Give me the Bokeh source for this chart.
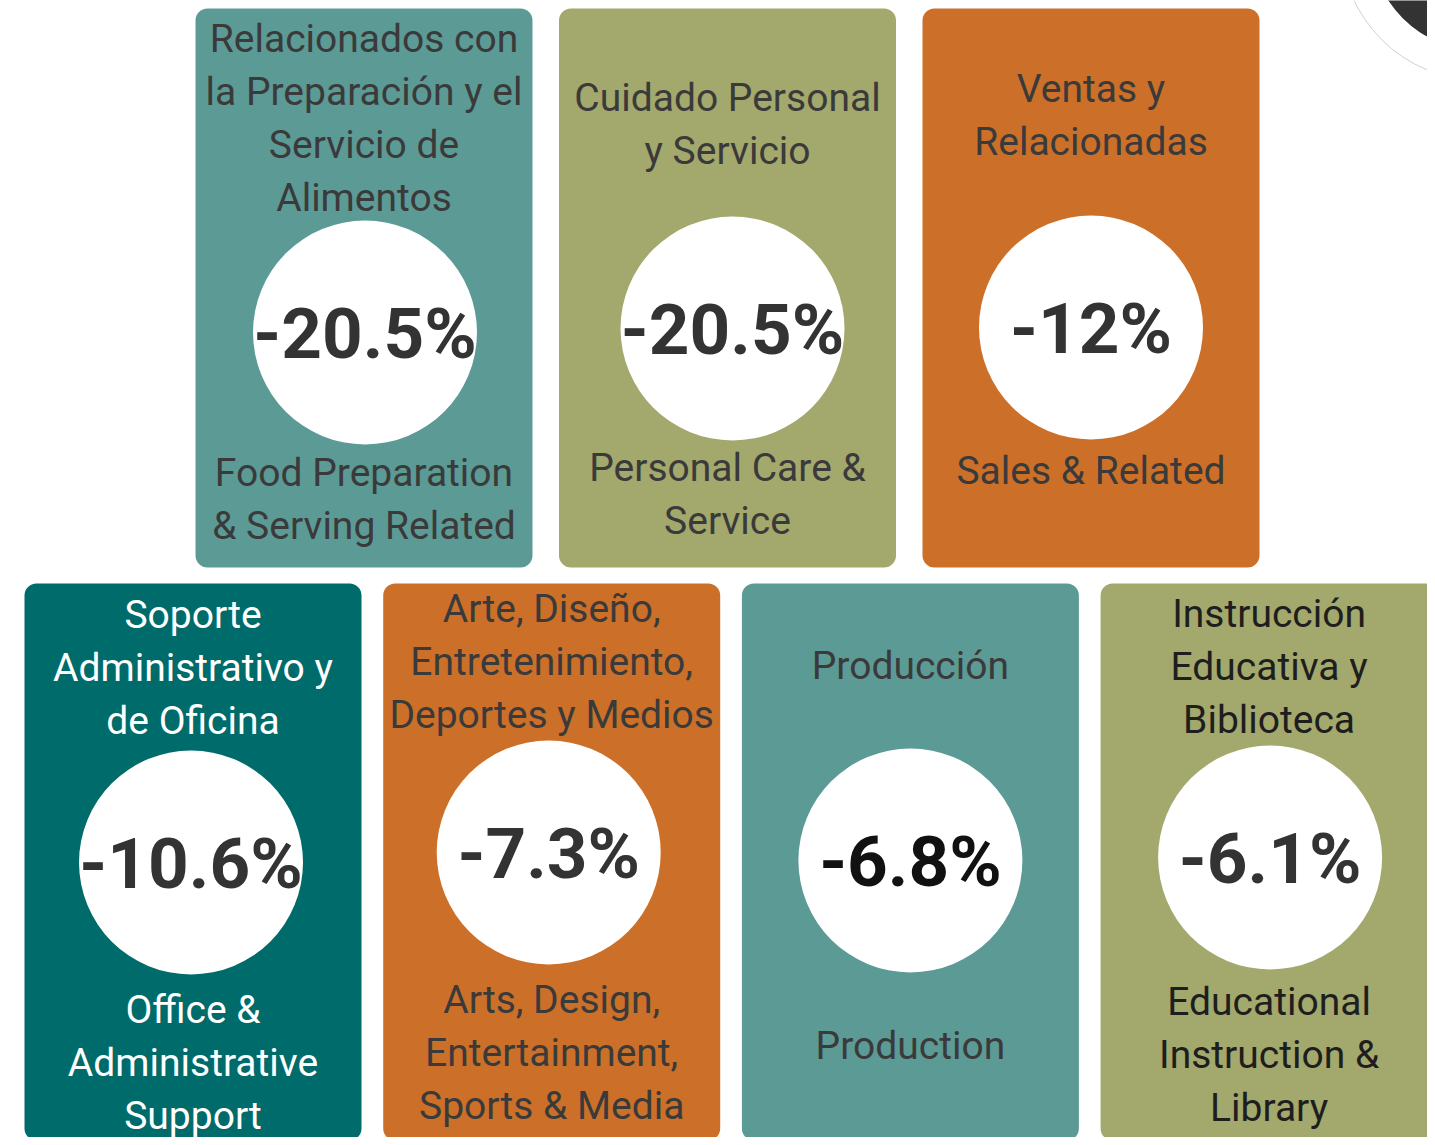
from bokeh.plotting import figure
from bokeh.models import Range1d
from bokeh.core.properties import value
from bokeh.embed import file_html
from bokeh.resources import INLINE

# ---- data ----
labels_es = [
    ["Relacionados con", "la Preparación y el", "Servicio de", "Alimentos"],
    ["Cuidado Personal", "y Servicio"],
    ["Ventas y", "Relacionadas"],
    ["Soporte", "Administrativo y", "de Oficina"],
    ["Arte, Diseño,", "Entretenimiento,", "Deportes y Medios"],
    ["Producción"],
    ["Instrucción", "Educativa y", "Biblioteca"],
]
labels_en = [
    ["Food Preparation", "& Serving Related"],
    ["Personal Care &", "Service"],
    ["Sales & Related"],
    ["Office &", "Administrative", "Support"],
    ["Arts, Design,", "Entertainment,", "Sports & Media"],
    ["Production"],
    ["Educational", "Instruction &", "Library"],
]
pct_change = [-20.5, -20.5, -12, -10.6, -7.3, -6.8, -6.1]

# ---- styles / layout ----
TEAL, OLIVE, ORANGE, DTEAL = "#5C9A96", "#A3A86C", "#CC7029", "#006B6B"
box_colors = [TEAL, OLIVE, ORANGE, DTEAL, ORANGE, TEAL, OLIVE]
text_colors = ["#3a3a3a", "#3a3a3a", "#3a3a3a", "#ffffff", "#3a3a3a", "#3a3a3a", "#1e1e1e"]
pct_colors = ["#333333"] * 5 + ["#111111", "#333333"]
rows = [0, 0, 0, 1, 1, 1, 1]
cols = [0, 1, 2, 0, 1, 2, 3]
row_left0 = [195, 24]
row_pitch = [363.5, 358.7]
box_w = 337
row_top = [8, 583]
row_bot = [567, 1140]
circle_dx = [1, 5, 0, -2, -3, 0, 1]
circle_y = [332, 328, 327, 862, 852, 860, 857]
top_first = [38, 97, 88, 614, 608, 665, 613]
bot_first = [472, 467, 470, 1009, 999, 1045, 1001]
line_h = 53
R = 112
FONT = "Roboto"
LABEL_SIZE = "39px"

W, H = 1427, 1137
p = figure(width=W, height=H, output_backend="svg", toolbar_location=None,
           x_range=Range1d(0, W), y_range=Range1d(H, 0),
           min_border=0, outline_line_color=None, background_fill_color="white",
           border_fill_color="white")
p.axis.visible = False
p.grid.visible = False

lefts, rights, tops, bots, bx = [], [], [], [], []
for r, c in zip(rows, cols):
    l = row_left0[r] + c * row_pitch[r]
    lefts.append(l)
    rights.append(l + box_w)
    tops.append(row_top[r])
    bots.append(row_bot[r])
    bx.append(l + box_w / 2)
cx = [x + d for x, d in zip(bx, circle_dx)]

p.quad(left=lefts, right=rights, top=tops, bottom=bots, fill_color=box_colors,
       line_color=None, border_radius=12)

# decorative partial badge at top-right
p.circle(x=[1480], y=[-60], radius=140, fill_color=None, line_color="#d0d0d0", line_width=1)
p.circle(x=[1480], y=[-60], radius=110, fill_color="#333333", line_color=None)

p.circle(x=cx, y=circle_y, radius=R, fill_color="white", line_color=None)

def fmt(v):
    return f"{v:g}%"

p.text(x=cx, y=[y + 1 for y in circle_y], text=[fmt(v) for v in pct_change], text_color=pct_colors,
       text_font=value(FONT), text_font_style="bold", text_font_size="71px",
       text_align="center", text_baseline="middle")

tx, ty, tt, tc = [], [], [], []
for i in range(len(rows)):
    for block, first in ((labels_es[i], top_first[i]), (labels_en[i], bot_first[i])):
        for k, line in enumerate(block):
            tx.append(bx[i])
            ty.append(first + k * line_h)
            tt.append(line)
            tc.append(text_colors[i])

p.text(x=tx, y=ty, text=tt, text_color=tc, text_font=value(FONT),
       text_font_size=LABEL_SIZE, text_align="center", text_baseline="middle")

open("out.html", "w").write(file_html(p, INLINE))
